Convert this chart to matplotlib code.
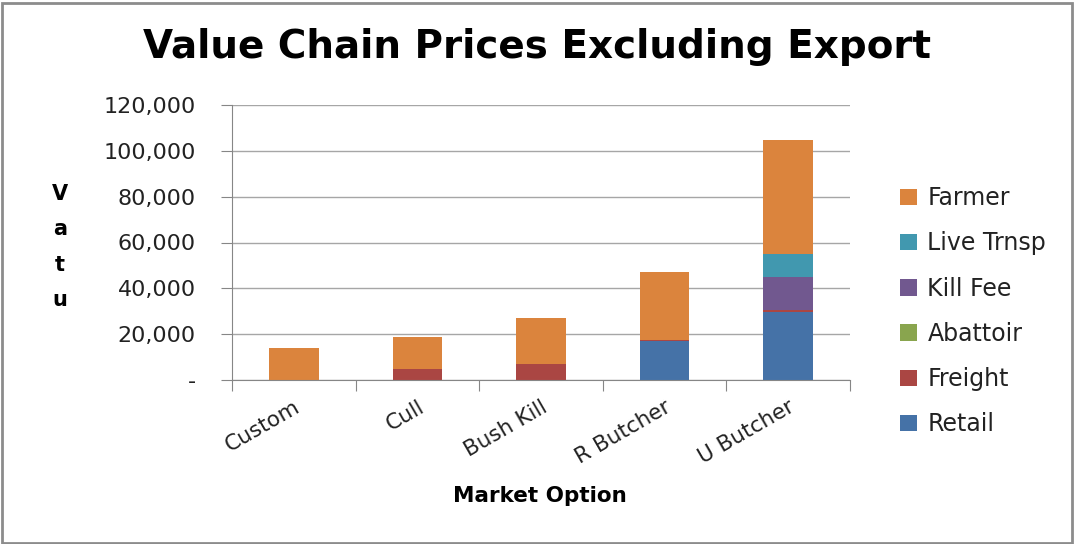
import matplotlib
matplotlib.use("Agg")
import matplotlib.pyplot as plt
from matplotlib.patches import Rectangle, Patch
from matplotlib.ticker import FuncFormatter, FixedLocator
import numpy as np

# data (Vatu)
categories = ["Custom", "Cull", "Bush Kill", "R Butcher", "U Butcher"]
retail = [0, 0, 0, 17000, 29700]
freight = [0, 4900, 6900, 600, 700]
abattoir = [0, 0, 0, 0, 0]
kill_fee = [0, 0, 0, 0, 14750]
live_trnsp = [0, 0, 0, 0, 10000]
farmer = [14000, 13800, 20100, 29600, 49400]

series_names = ["Retail", "Freight", "Abattoir", "Kill Fee", "Live Trnsp", "Farmer"]
series_vals = [retail, freight, abattoir, kill_fee, live_trnsp, farmer]
series_colors = ["#4572A7", "#AA4643", "#89A54E", "#71588F", "#4198AF", "#DB843D"]

plt.rcParams["font.family"] = "DejaVu Sans"

W, H = 1074, 544
fig = plt.figure(figsize=(W / 100, H / 100), dpi=100)

# outer chart border
fig.patches.append(Rectangle((1.5 / W, 1.5 / H), 1 - 4 / W, 1 - 4 / H,
                             transform=fig.transFigure, fill=False,
                             edgecolor="#8c8c8c", linewidth=2))

ax = fig.add_axes([232 / W, 1 - 380 / H, (850 - 232) / W, (380 - 105) / H])

x = np.arange(len(categories))
bottom = np.zeros(len(categories))
for name, vals, col in zip(series_names, series_vals, series_colors):
    ax.bar(x, vals, width=0.4, bottom=bottom, color=col, label=name, zorder=2)
    bottom += np.array(vals)

ax.set_xlim(-0.5, len(categories) - 0.5)
ax.set_ylim(0, 120000)
ax.set_yticks(np.arange(0, 120001, 20000))
ax.yaxis.set_major_formatter(FuncFormatter(lambda v, p: "-" if v == 0 else f"{v:,.0f}"))
ax.grid(True, axis="y", color="#a6a6a6", linewidth=1, zorder=0)

# ticks at category boundaries, labels at category centres
ax.xaxis.set_major_locator(FixedLocator(np.arange(-0.5, len(categories), 1.0)))
ax.xaxis.set_minor_locator(FixedLocator(x))
ax.set_xticklabels([""] * (len(categories) + 1))
ax.set_xticklabels(categories, minor=True, rotation=30, ha="right",
                   rotation_mode="anchor", fontsize=15.5)
ax.tick_params(axis="x", which="major", length=8, color="#868686", direction="out")
ax.tick_params(axis="x", which="minor", length=0, pad=12, labelcolor="#222222")
ax.tick_params(axis="y", length=8, color="#868686", labelsize=16, pad=18,
               labelcolor="#222222")

for side in ["top", "right"]:
    ax.spines[side].set_visible(False)
for side in ["left", "bottom"]:
    ax.spines[side].set_color("#868686")

fig.text(537 / W, 1 - 47 / H, "Value Chain Prices Excluding Export",
         ha="center", va="center", fontsize=28, fontweight="bold")
fig.text(540 / W, 1 - 496 / H, "Market Option", ha="center", va="center",
         fontsize=15.5, fontweight="bold")
fig.text(60 / W, 1 - 247 / H, "V\na\nt\nu", ha="center", va="center",
         fontsize=15, fontweight="bold", linespacing=1.95)

handles = [Patch(facecolor=c, label=n) for n, c in zip(series_names, series_colors)][::-1]
fig.legend(handles=handles, loc="upper left", bbox_to_anchor=(879 / W, 1 - 165 / H),
           frameon=False, fontsize=17, labelspacing=0.9, handlelength=0.7,
           handleheight=0.7, handletextpad=0.45, labelcolor="#222222")

fig.savefig("out.png", dpi=100)
